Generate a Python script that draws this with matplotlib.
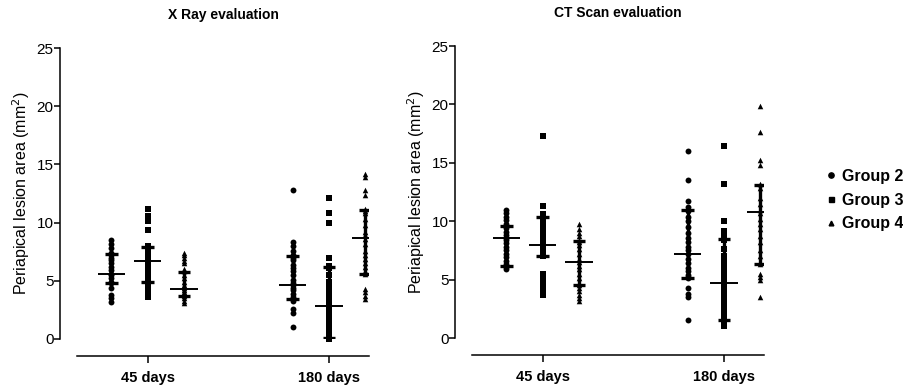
import matplotlib.pyplot as plt
from matplotlib.lines import Line2D
import numpy as np

plt.rcParams['font.family'] = ['Liberation Sans', 'DejaVu Sans']

days = ['45 days', '180 days']
groups = ['Group 2', 'Group 3', 'Group 4']
markers = ['o', 's', '^']

# X Ray evaluation - periapical lesion area (mm2)
xray_45_g2 = [8.5, 8.2, 7.8, 7.4, 7.2, 7.0, 6.8, 6.5, 6.2, 5.9, 5.6, 5.5, 5.2, 4.9, 4.8, 4.4, 3.8, 3.5, 3.2]
xray_45_g3 = [11.2, 10.6, 10.1, 9.4, 8.0, 7.8, 7.5, 7.2, 6.8, 6.5, 6.2, 5.9, 5.6, 5.3, 5.0, 4.9,
              4.8, 4.6, 4.3, 4.0, 3.8, 3.6]
xray_45_g4 = [7.4, 7.2, 7.0, 6.7, 6.5, 6.0, 5.8, 5.5, 5.2, 4.9, 4.6, 4.4, 4.2, 4.0, 3.8, 3.7, 3.5, 3.3, 3.1]
xray_180_g2 = [12.8, 8.3, 8.0, 7.6, 7.2, 7.0, 6.8, 6.4, 6.1, 5.8, 5.5, 5.1, 4.8, 4.6, 4.4, 4.2,
               3.9, 3.6, 3.4, 3.3, 2.6, 2.2, 1.0]
xray_180_g3 = [12.1, 10.8, 10.0, 7.0, 6.3, 6.1, 5.5, 4.9, 4.4, 4.0, 3.6, 3.2, 2.9, 2.8, 2.5, 2.1,
               1.8, 1.5, 1.2, 1.0, 0.6, 0.3, 0.1, 0.0, 0.0]
xray_180_g4 = [14.2, 13.9, 12.8, 12.4, 11.2, 11.0, 10.8, 10.3, 9.8, 9.2, 8.9, 8.6, 8.2, 7.6, 7.2,
               6.9, 6.5, 6.2, 5.8, 5.6, 4.3, 4.0, 3.7, 3.4]
xray_median = [[5.6, 6.7, 4.3], [4.6, 2.85, 8.65]]
xray_q1 = [[4.8, 4.9, 3.7], [3.4, 0.05, 5.6]]
xray_q3 = [[7.3, 7.9, 5.75], [7.15, 6.2, 11.1]]

# CT Scan evaluation - periapical lesion area (mm2)
ct_45_g2 = [11.0, 10.7, 10.4, 10.1, 9.8, 9.6, 9.4, 9.1, 8.8, 8.6, 8.4, 8.1, 7.8, 7.5, 7.2, 6.9,
            6.6, 6.3, 6.1, 5.9]
ct_45_g3 = [17.3, 11.3, 10.6, 10.4, 10.2, 9.9, 9.5, 9.1, 8.7, 8.3, 8.0, 7.7, 7.4, 7.1, 7.0, 5.5,
            5.2, 4.8, 4.5, 4.2, 3.7]
ct_45_g4 = [9.8, 9.3, 9.0, 8.7, 8.4, 8.2, 8.0, 7.6, 7.2, 6.8, 6.5, 6.2, 5.9, 5.5, 5.1, 4.7, 4.5,
            4.3, 4.0, 3.7, 3.4, 3.2]
ct_180_g2 = [16.0, 13.5, 11.7, 11.2, 10.9, 10.4, 10.0, 9.5, 9.0, 8.6, 8.2, 7.8, 7.5, 7.2, 6.8,
             6.4, 6.0, 5.7, 5.4, 5.2, 5.1, 4.3, 3.8, 3.5, 1.5]
ct_180_g3 = [16.4, 13.2, 10.0, 9.2, 8.9, 8.6, 8.4, 7.6, 7.0, 6.5, 6.1, 5.6, 5.2, 4.8, 4.5, 4.0,
             3.5, 3.0, 2.7, 2.3, 2.0, 1.7, 1.5, 1.3, 1.0]
ct_180_g4 = [19.9, 17.6, 15.2, 14.8, 13.2, 12.8, 12.0, 11.5, 11.0, 10.7, 10.2, 9.8, 9.3, 8.7, 8.2,
             7.5, 7.0, 6.5, 6.3, 5.5, 5.2, 5.0, 3.5]
ct_median = [[8.6, 8.0, 6.5], [7.2, 4.75, 10.8]]
ct_q1 = [[6.2, 7.0, 4.5], [5.15, 1.55, 6.3]]
ct_q3 = [[9.55, 10.4, 8.3], [10.95, 8.5, 13.1]]

xray_data = [[xray_45_g2, xray_45_g3, xray_45_g4], [xray_180_g2, xray_180_g3, xray_180_g4]]
ct_data = [[ct_45_g2, ct_45_g3, ct_45_g4], [ct_180_g2, ct_180_g3, ct_180_g4]]

fig = plt.figure(figsize=(9.04, 3.87), dpi=100)
ax1 = fig.add_axes([77 / 904, 1 - 339 / 387, 292 / 904, 291 / 387])
ax2 = fig.add_axes([472 / 904, 1 - 338 / 387, 292 / 904, 292 / 387])

offsets = [-0.2, 0.0, 0.2]
msizes = [18, 17, 16]


def draw_panel(ax, data, med, q1, q3, title):
    for d in range(len(days)):
        for g in range(len(groups)):
            x = d + offsets[g]
            vals = data[d][g]
            ax.scatter(np.full(len(vals), x), vals, marker=markers[g], s=msizes[g],
                       color='black', linewidths=0, clip_on=False, zorder=3)
            # median and interquartile range
            ax.hlines(med[d][g], x - 0.075, x + 0.075, color='black', lw=1.4, zorder=4)
            ax.vlines(x, q1[d][g], q3[d][g], color='black', lw=2.4, zorder=4)
            ax.hlines([q1[d][g], q3[d][g]], x - 0.035, x + 0.035, color='black', lw=2.4, zorder=4)

    for s in ['top', 'right']:
        ax.spines[s].set_visible(False)
    ax.spines['left'].set_position(('outward', 12))
    ax.spines['bottom'].set_position(('outward', 12))
    ax.spines['left'].set_linewidth(1.1)
    ax.spines['bottom'].set_linewidth(1.1)

    ax.set_xlim(-0.39, 1.22)
    ax.set_ylim(0, 25)
    ax.set_yticks([0, 5, 10, 15, 20, 25])
    ax.set_xticks([0, 1])
    ax.set_xticklabels(days, fontweight='bold', fontsize=10.5)
    ax.tick_params(axis='y', labelsize=11, length=4, width=1.1, pad=1)
    ax.tick_params(axis='x', length=5, width=1.1, pad=6)
    ax.set_ylabel('Periapical lesion area (mm$^2$)', fontsize=11.5, labelpad=3)
    ax.set_title(title, fontweight='bold', fontsize=10, pad=21)


draw_panel(ax1, xray_data, xray_median, xray_q1, xray_q3, 'X Ray evaluation')
draw_panel(ax2, ct_data, ct_median, ct_q1, ct_q3, 'CT Scan evaluation')

handles = [Line2D([], [], ls='none', marker=m, color='black', markersize=ms)
           for m, ms in zip(markers, [3.8, 3.6, 3.4])]
fig.legend(handles, groups, loc='center left', bbox_to_anchor=(810 / 904, 1 - 200 / 387),
           frameon=False, handletextpad=0.3, labelspacing=0.55, handlelength=0.8,
           prop=dict(weight='bold', size=11.5))

fig.savefig('out.png', dpi=100)
